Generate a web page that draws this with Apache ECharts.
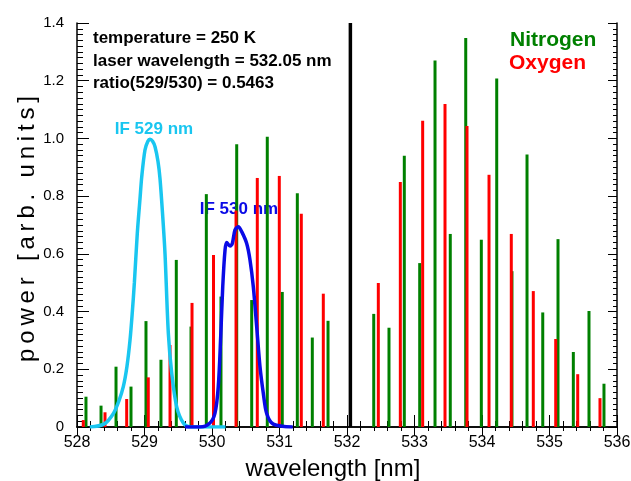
<!DOCTYPE html>
<html>
<head>
<meta charset="utf-8">
<script src="https://cdn.jsdelivr.net/npm/echarts@6/dist/echarts.min.js"></script>
<style>
  html, body { margin: 0; padding: 0; background: #fff; }
  #wrap { position: relative; width: 631px; height: 481px; }
  #frame, #chart { position: absolute; left: 0; top: 0; width: 631px; height: 481px; }
</style>
</head>
<body>
<div id="wrap">
  <div id="frame"></div>
  <div id="chart"></div>
</div>
<script>
// rotational Raman lines of N2 (green) and O2 (red), wavelength in nm
const n2Wavelength = [528.133, 528.356, 528.578, 528.8, 529.022, 529.244, 529.471, 529.689, 529.916, 530.133,
  530.366, 530.588, 530.819, 531.041, 531.264, 531.486, 531.719,
  532.396, 532.622, 532.849, 533.077, 533.304, 533.53, 533.759, 533.99, 534.218, 534.444, 534.667,
  534.9, 535.126, 535.353, 535.585, 535.807]
const n2Power = [0.105, 0.074, 0.209, 0.14, 0.367, 0.233, 0.579, 0.348, 0.807, 0.452,
  0.98, 0.44, 1.006, 0.468, 0.81, 0.31, 0.368,
  0.392, 0.344, 0.94, 0.568, 1.27, 0.669, 1.348, 0.649, 1.208, 0.54, 0.944,
  0.397, 0.651, 0.26, 0.402, 0.15]

const o2Wavelength = [528.093, 528.415, 528.736, 529.056, 529.378, 529.704, 530.022, 530.356, 530.671, 530.997,
  531.323, 531.649, 532.464, 532.79, 533.121, 533.452, 533.778, 534.104, 534.434, 534.76,
  535.092, 535.418, 535.748]
const o2Power = [0.024, 0.051, 0.097, 0.172, 0.284, 0.43, 0.596, 0.75, 0.863, 0.87,
  0.739, 0.462, 0.499, 0.849, 1.061, 1.119, 1.043, 0.874, 0.669, 0.471,
  0.305, 0.183, 0.1]

// interference filter transmission curves
const if529Wavelength = [528.19, 528.4, 528.54, 528.62, 528.686, 528.74, 528.785, 528.82, 528.85, 528.893,
  528.933, 528.959, 529.007, 529.05, 529.081, 529.12, 529.156, 529.2, 529.23, 529.27,
  529.304, 529.353, 529.403, 529.477, 529.575, 529.674, 530.2]
const if529Power = [0, 0.01, 0.047, 0.09, 0.14, 0.21, 0.3, 0.4, 0.5, 0.67,
  0.79, 0.867, 0.96, 0.99, 0.997, 0.99, 0.971, 0.92, 0.86, 0.73,
  0.6, 0.325, 0.187, 0.07, 0.014, 0, 0]

const if530Wavelength = [529.6, 529.822, 529.97, 530.044, 530.093, 530.129, 530.159, 530.193, 530.218, 530.267,
  530.301, 530.341, 530.39, 530.44, 530.514, 530.563, 530.612, 530.662, 530.711, 530.76,
  530.81, 530.908, 531.196]
const if530Power = [0, 0, 0.014, 0.048, 0.14, 0.313, 0.486, 0.613, 0.639, 0.627,
  0.636, 0.683, 0.694, 0.677, 0.636, 0.579, 0.486, 0.348, 0.209, 0.117,
  0.047, 0.01, 0]

const laserWavelength = 532.05
const infoLines = ['temperature = 250 K', 'laser wavelength = 532.05 nm', 'ratio(529/530) = 0.5463']

const X_MIN = 528
const X_MAX = 536
const Y_MIN = 0
const Y_MAX = 1.4

const FONT = '"Liberation Sans", Arial, sans-serif'
const GREEN = '#008000'
const RED = '#ff0000'
const CYAN = '#19c6f0'
const BLUE = '#0a0ae6'
const THIN = '\u2009'

const GRID = { left: 77, right: 14, top: 23, bottom: 54, outerBoundsMode: 'none' }

const zip = (xs, ys) => xs.map((x, i) => [x, ys[i]])

// frame axes: line + inward ticks only
function frameX (pos, major, minor) {
  return {
    type: 'value',
    position: pos,
    min: X_MIN,
    max: X_MAX,
    interval: 1,
    axisLine: { show: true, lineStyle: { color: '#000', width: 1.5 } },
    axisTick: { show: true, inside: true, length: major, lineStyle: { color: '#000', width: 1 } },
    minorTick: { show: true, splitNumber: 5, length: minor, lineStyle: { color: '#000', width: 1 } },
    axisLabel: { show: false },
    splitLine: { show: false }
  }
}

function frameY (pos, major, minor) {
  return {
    type: 'value',
    position: pos,
    min: Y_MIN,
    max: Y_MAX,
    interval: 0.2,
    axisLine: { show: true, lineStyle: { color: '#000', width: 1.5 } },
    axisTick: { show: true, inside: true, length: major, lineStyle: { color: '#000', width: 1 } },
    minorTick: { show: true, splitNumber: 10, length: minor, lineStyle: { color: '#000', width: 1 } },
    axisLabel: { show: false },
    splitLine: { show: false }
  }
}

const frame = echarts.init(document.getElementById('frame'))
frame.setOption({
  animation: false,
  grid: GRID,
  xAxis: [frameX('bottom', 12, 6), frameX('top', 9, 4)],
  yAxis: [frameY('left', 12, 6), frameY('right', 9, 4)],
  series: [
    {
      name: 'laser',
      type: 'line',
      data: [[laserWavelength, Y_MIN], [laserWavelength, Y_MAX]],
      showSymbol: false,
      lineStyle: { color: '#000', width: 3.5 }
    }
  ]
})

// data layer: labels only on the axes, transparent background
const infoText = infoLines.map((t, i) => ({
  type: 'text',
  left: 93,
  top: 30 + i * 22.5,
  style: { text: t, fill: '#000', font: 'bold 17px ' + FONT }
}))

const yTitle = 'power [arb. units]'.split('').join(THIN)

const option = {
  animation: false,
  backgroundColor: 'transparent',
  grid: GRID,
  xAxis: {
    type: 'value',
    min: X_MIN,
    max: X_MAX,
    interval: 1,
    axisLine: { show: false },
    axisTick: { show: false },
    axisLabel: { color: '#000', fontSize: 16, fontFamily: FONT, margin: 8 },
    splitLine: { show: false }
  },
  yAxis: {
    type: 'value',
    min: Y_MIN,
    max: Y_MAX,
    interval: 0.2,
    axisLine: { show: false },
    axisTick: { show: false },
    axisLabel: {
      color: '#000',
      fontSize: 15,
      fontFamily: FONT,
      margin: 13,
      formatter: v => (v === 0 ? '0' : v.toFixed(1))
    },
    splitLine: { show: false }
  },
  series: [
    {
      name: 'Nitrogen',
      type: 'bar',
      data: zip(n2Wavelength, n2Power),
      barWidth: 3,
      barGap: '-100%',
      itemStyle: { color: GREEN }
    },
    {
      name: 'Oxygen',
      type: 'bar',
      data: zip(o2Wavelength, o2Power),
      barWidth: 3,
      barGap: '-100%',
      itemStyle: { color: RED }
    },
    {
      name: 'IF 529 nm',
      type: 'line',
      data: zip(if529Wavelength, if529Power),
      showSymbol: false,
      smooth: 0.3,
      lineStyle: { color: CYAN, width: 3.5 }
    },
    {
      name: 'IF 530 nm',
      type: 'line',
      data: zip(if530Wavelength, if530Power),
      showSymbol: false,
      smooth: 0.3,
      lineStyle: { color: BLUE, width: 3.5 }
    }
  ],
  graphic: [
    ...infoText,
    { type: 'text', left: 510, top: 30, style: { text: 'Nitrogen', fill: GREEN, font: 'bold 21px ' + FONT } },
    { type: 'text', left: 509, top: 53, style: { text: 'Oxygen', fill: RED, font: 'bold 21px ' + FONT } },
    { type: 'text', x: 154, y: 129, style: { text: 'IF 529 nm', fill: CYAN, font: 'bold 17px ' + FONT, align: 'center', verticalAlign: 'middle' } },
    { type: 'text', x: 239, y: 209, style: { text: 'IF 530 nm', fill: BLUE, font: 'bold 17px ' + FONT, align: 'center', verticalAlign: 'middle' } },
    { type: 'text', x: 333, y: 469, style: { text: 'wavelength [nm]', fill: '#000', font: '24px ' + FONT, align: 'center', verticalAlign: 'middle' } },
    { type: 'text', x: 27, y: 229, rotation: Math.PI / 2, style: { text: yTitle, fill: '#000', font: '24px ' + FONT, align: 'center', verticalAlign: 'middle' } }
  ]
}

const chart = echarts.init(document.getElementById('chart'))
chart.setOption(option)
</script>
</body>
</html>
